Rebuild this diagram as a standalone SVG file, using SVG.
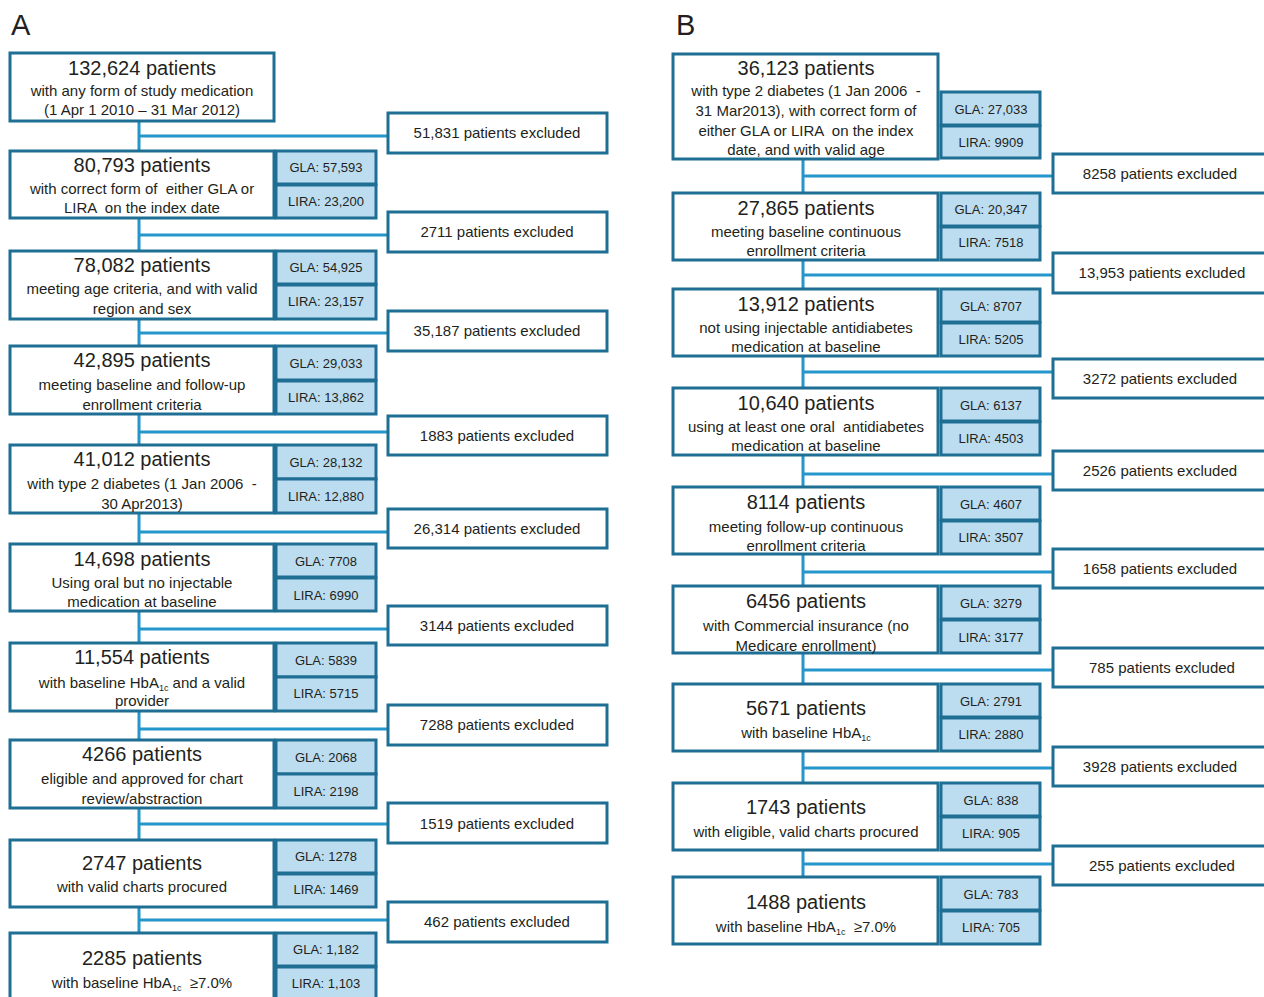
<svg xmlns="http://www.w3.org/2000/svg" width="1264" height="997" viewBox="0 0 1264 997" xml:space="preserve">
<style>
text{font-family:"Liberation Sans",Arial,sans-serif;fill:#231f20;text-anchor:middle;white-space:pre}
.box{fill:#fff;stroke:#1f6f94;stroke-width:3}
.sub{fill:#bcdcf0;stroke:#1f6f94;stroke-width:3}
.con{stroke:#2496c9;stroke-width:3;fill:none}
.t{font-size:20px}
.s{font-size:15px}
.g{font-size:13px}
.e{font-size:15px}
.lbl{font-size:29px;text-anchor:start}
.sb{font-size:9px}
</style>
<rect width="1264" height="997" fill="#fff"/>
<text class="lbl" x="11" y="35">A</text>
<text class="lbl" x="676" y="35">B</text>
<g id="connectors">
<line class="con" x1="139" y1="121" x2="139" y2="933"/>
<line class="con" x1="139" y1="136" x2="388" y2="136"/>
<line class="con" x1="139" y1="235" x2="388" y2="235"/>
<line class="con" x1="139" y1="333" x2="388" y2="333"/>
<line class="con" x1="139" y1="432" x2="388" y2="432"/>
<line class="con" x1="139" y1="532" x2="388" y2="532"/>
<line class="con" x1="139" y1="629" x2="388" y2="629"/>
<line class="con" x1="139" y1="729" x2="388" y2="729"/>
<line class="con" x1="139" y1="824" x2="388" y2="824"/>
<line class="con" x1="139" y1="920" x2="388" y2="920"/>
<line class="con" x1="803" y1="159" x2="803" y2="877"/>
<line class="con" x1="803" y1="176" x2="1053" y2="176"/>
<line class="con" x1="803" y1="275" x2="1053" y2="275"/>
<line class="con" x1="803" y1="372" x2="1053" y2="372"/>
<line class="con" x1="803" y1="474" x2="1053" y2="474"/>
<line class="con" x1="803" y1="572" x2="1053" y2="572"/>
<line class="con" x1="803" y1="670" x2="1053" y2="670"/>
<line class="con" x1="803" y1="768" x2="1053" y2="768"/>
<line class="con" x1="803" y1="864" x2="1053" y2="864"/>
</g>
<g id="a1"><rect class="box" x="10" y="53" width="264" height="68"/>
<text class="t" x="142" y="75">132,624 patients</text>
<text class="s" x="142" y="96">with any form of study medication</text>
<text class="s" x="142" y="115">(1 Apr 1 2010 – 31 Mar 2012)</text></g>
<g id="a2"><rect class="box" x="10" y="151" width="264" height="67"/>
<text class="t" x="142" y="172">80,793 patients</text>
<text class="s" x="142" y="194">with correct form of  either GLA or</text>
<text class="s" x="142" y="213">LIRA  on the index date</text></g>
<g id="a2-gla"><rect class="sub" x="276" y="151" width="100" height="33"/><text class="g" x="326" y="172">GLA: 57,593</text></g>
<g id="a2-lira"><rect class="sub" x="276" y="185" width="100" height="33"/><text class="g" x="326" y="206">LIRA: 23,200</text></g>
<g id="a3"><rect class="box" x="10" y="251" width="264" height="68"/>
<text class="t" x="142" y="272">78,082 patients</text>
<text class="s" x="142" y="294">meeting age criteria, and with valid</text>
<text class="s" x="142" y="314">region and sex</text></g>
<g id="a3-gla"><rect class="sub" x="276" y="251" width="100" height="33"/><text class="g" x="326" y="272">GLA: 54,925</text></g>
<g id="a3-lira"><rect class="sub" x="276" y="285" width="100" height="34"/><text class="g" x="326" y="306">LIRA: 23,157</text></g>
<g id="a4"><rect class="box" x="10" y="346" width="264" height="68"/>
<text class="t" x="142" y="367">42,895 patients</text>
<text class="s" x="142" y="390">meeting baseline and follow-up</text>
<text class="s" x="142" y="410">enrollment criteria</text></g>
<g id="a4-gla"><rect class="sub" x="276" y="346" width="100" height="34"/><text class="g" x="326" y="368">GLA: 29,033</text></g>
<g id="a4-lira"><rect class="sub" x="276" y="381" width="100" height="33"/><text class="g" x="326" y="402">LIRA: 13,862</text></g>
<g id="a5"><rect class="box" x="10" y="445" width="264" height="68"/>
<text class="t" x="142" y="466">41,012 patients</text>
<text class="s" x="142" y="489">with type 2 diabetes (1 Jan 2006  -</text>
<text class="s" x="142" y="509">30 Apr2013)</text></g>
<g id="a5-gla"><rect class="sub" x="276" y="445" width="100" height="34"/><text class="g" x="326" y="467">GLA: 28,132</text></g>
<g id="a5-lira"><rect class="sub" x="276" y="479" width="100" height="34"/><text class="g" x="326" y="501">LIRA: 12,880</text></g>
<g id="a6"><rect class="box" x="10" y="544" width="264" height="67"/>
<text class="t" x="142" y="566">14,698 patients</text>
<text class="s" x="142" y="588">Using oral but no injectable</text>
<text class="s" x="142" y="607">medication at baseline</text></g>
<g id="a6-gla"><rect class="sub" x="276" y="544" width="100" height="33"/><text class="g" x="326" y="566">GLA: 7708</text></g>
<g id="a6-lira"><rect class="sub" x="276" y="578" width="100" height="33"/><text class="g" x="326" y="600">LIRA: 6990</text></g>
<g id="a7"><rect class="box" x="10" y="643" width="264" height="68"/>
<text class="t" x="142" y="664">11,554 patients</text>
<text class="s" x="142" y="688">with baseline HbA<tspan class="sb" dy="3">1c</tspan><tspan dy="-3"> and a valid</tspan></text>
<text class="s" x="142" y="706">provider</text></g>
<g id="a7-gla"><rect class="sub" x="276" y="643" width="100" height="34"/><text class="g" x="326" y="665">GLA: 5839</text></g>
<g id="a7-lira"><rect class="sub" x="276" y="677" width="100" height="34"/><text class="g" x="326" y="698">LIRA: 5715</text></g>
<g id="a8"><rect class="box" x="10" y="740" width="264" height="68"/>
<text class="t" x="142" y="761">4266 patients</text>
<text class="s" x="142" y="784">eligible and approved for chart</text>
<text class="s" x="142" y="804">review/abstraction</text></g>
<g id="a8-gla"><rect class="sub" x="276" y="740" width="100" height="34"/><text class="g" x="326" y="762">GLA: 2068</text></g>
<g id="a8-lira"><rect class="sub" x="276" y="774" width="100" height="34"/><text class="g" x="326" y="796">LIRA: 2198</text></g>
<g id="a9"><rect class="box" x="10" y="840" width="264" height="67"/>
<text class="t" x="142" y="870">2747 patients</text>
<text class="s" x="142" y="892">with valid charts procured</text></g>
<g id="a9-gla"><rect class="sub" x="276" y="840" width="100" height="33"/><text class="g" x="326" y="861">GLA: 1278</text></g>
<g id="a9-lira"><rect class="sub" x="276" y="874" width="100" height="33"/><text class="g" x="326" y="894">LIRA: 1469</text></g>
<g id="a10"><rect class="box" x="10" y="933" width="264" height="68"/>
<text class="t" x="142" y="965">2285 patients</text>
<text class="s" x="142" y="988">with baseline HbA<tspan class="sb" dy="3">1c</tspan><tspan dy="-3">  ≥7.0%</tspan></text></g>
<g id="a10-gla"><rect class="sub" x="276" y="933" width="100" height="33"/><text class="g" x="326" y="954">GLA: 1,182</text></g>
<g id="a10-lira"><rect class="sub" x="276" y="967" width="100" height="33"/><text class="g" x="326" y="988">LIRA: 1,103</text></g>
<g id="a-ex1"><rect class="box" x="388" y="113" width="219" height="40"/><text class="e" x="497" y="138">51,831 patients excluded</text></g>
<g id="a-ex2"><rect class="box" x="388" y="212" width="219" height="40"/><text class="e" x="497" y="237">2711 patients excluded</text></g>
<g id="a-ex3"><rect class="box" x="388" y="311" width="219" height="40"/><text class="e" x="497" y="336">35,187 patients excluded</text></g>
<g id="a-ex4"><rect class="box" x="388" y="416" width="219" height="39"/><text class="e" x="497" y="441">1883 patients excluded</text></g>
<g id="a-ex5"><rect class="box" x="388" y="509" width="219" height="39"/><text class="e" x="497" y="534">26,314 patients excluded</text></g>
<g id="a-ex6"><rect class="box" x="388" y="606" width="219" height="39"/><text class="e" x="497" y="631">3144 patients excluded</text></g>
<g id="a-ex7"><rect class="box" x="388" y="705" width="219" height="40"/><text class="e" x="497" y="730">7288 patients excluded</text></g>
<g id="a-ex8"><rect class="box" x="388" y="803" width="219" height="40"/><text class="e" x="497" y="829">1519 patients excluded</text></g>
<g id="a-ex9"><rect class="box" x="388" y="902" width="219" height="40"/><text class="e" x="497" y="927">462 patients excluded</text></g>
<g id="b1"><rect class="box" x="673" y="54" width="265" height="105"/>
<text class="t" x="806" y="75">36,123 patients</text>
<text class="s" x="806" y="96">with type 2 diabetes (1 Jan 2006  -</text>
<text class="s" x="806" y="116">31 Mar2013), with correct form of</text>
<text class="s" x="806" y="136">either GLA or LIRA  on the index</text>
<text class="s" x="806" y="155">date, and with valid age</text></g>
<g id="b1-gla"><rect class="sub" x="941" y="92" width="99" height="33"/><text class="g" x="991" y="114">GLA: 27,033</text></g>
<g id="b1-lira"><rect class="sub" x="941" y="126" width="99" height="32"/><text class="g" x="991" y="147">LIRA: 9909</text></g>
<g id="b2"><rect class="box" x="673" y="193" width="265" height="67"/>
<text class="t" x="806" y="215">27,865 patients</text>
<text class="s" x="806" y="237">meeting baseline continuous</text>
<text class="s" x="806" y="256">enrollment criteria</text></g>
<g id="b2-gla"><rect class="sub" x="941" y="193" width="99" height="33"/><text class="g" x="991" y="214">GLA: 20,347</text></g>
<g id="b2-lira"><rect class="sub" x="941" y="227" width="99" height="33"/><text class="g" x="991" y="247">LIRA: 7518</text></g>
<g id="b3"><rect class="box" x="673" y="289" width="265" height="67"/>
<text class="t" x="806" y="311">13,912 patients</text>
<text class="s" x="806" y="333">not using injectable antidiabetes</text>
<text class="s" x="806" y="352">medication at baseline</text></g>
<g id="b3-gla"><rect class="sub" x="941" y="289" width="99" height="33"/><text class="g" x="991" y="311">GLA: 8707</text></g>
<g id="b3-lira"><rect class="sub" x="941" y="323" width="99" height="33"/><text class="g" x="991" y="344">LIRA: 5205</text></g>
<g id="b4"><rect class="box" x="673" y="388" width="265" height="67"/>
<text class="t" x="806" y="410">10,640 patients</text>
<text class="s" x="806" y="432">using at least one oral  antidiabetes</text>
<text class="s" x="806" y="451">medication at baseline</text></g>
<g id="b4-gla"><rect class="sub" x="941" y="388" width="99" height="33"/><text class="g" x="991" y="410">GLA: 6137</text></g>
<g id="b4-lira"><rect class="sub" x="941" y="422" width="99" height="33"/><text class="g" x="991" y="443">LIRA: 4503</text></g>
<g id="b5"><rect class="box" x="673" y="487" width="265" height="67"/>
<text class="t" x="806" y="509">8114 patients</text>
<text class="s" x="806" y="532">meeting follow-up continuous</text>
<text class="s" x="806" y="551">enrollment criteria</text></g>
<g id="b5-gla"><rect class="sub" x="941" y="487" width="99" height="33"/><text class="g" x="991" y="509">GLA: 4607</text></g>
<g id="b5-lira"><rect class="sub" x="941" y="521" width="99" height="33"/><text class="g" x="991" y="542">LIRA: 3507</text></g>
<g id="b6"><rect class="box" x="673" y="586" width="265" height="67"/>
<text class="t" x="806" y="608">6456 patients</text>
<text class="s" x="806" y="631">with Commercial insurance (no</text>
<text class="s" x="806" y="651">Medicare enrollment)</text></g>
<g id="b6-gla"><rect class="sub" x="941" y="586" width="99" height="33"/><text class="g" x="991" y="608">GLA: 3279</text></g>
<g id="b6-lira"><rect class="sub" x="941" y="620" width="99" height="33"/><text class="g" x="991" y="642">LIRA: 3177</text></g>
<g id="b7"><rect class="box" x="673" y="684" width="265" height="67"/>
<text class="t" x="806" y="715">5671 patients</text>
<text class="s" x="806" y="738">with baseline HbA<tspan class="sb" dy="3">1c</tspan></text></g>
<g id="b7-gla"><rect class="sub" x="941" y="684" width="99" height="33"/><text class="g" x="991" y="706">GLA: 2791</text></g>
<g id="b7-lira"><rect class="sub" x="941" y="718" width="99" height="33"/><text class="g" x="991" y="739">LIRA: 2880</text></g>
<g id="b8"><rect class="box" x="673" y="783" width="265" height="67"/>
<text class="t" x="806" y="814">1743 patients</text>
<text class="s" x="806" y="837">with eligible, valid charts procured</text></g>
<g id="b8-gla"><rect class="sub" x="941" y="783" width="99" height="33"/><text class="g" x="991" y="805">GLA: 838</text></g>
<g id="b8-lira"><rect class="sub" x="941" y="817" width="99" height="33"/><text class="g" x="991" y="838">LIRA: 905</text></g>
<g id="b9"><rect class="box" x="673" y="877" width="265" height="67"/>
<text class="t" x="806" y="909">1488 patients</text>
<text class="s" x="806" y="932">with baseline HbA<tspan class="sb" dy="3">1c</tspan><tspan dy="-3">  ≥7.0%</tspan></text></g>
<g id="b9-gla"><rect class="sub" x="941" y="877" width="99" height="33"/><text class="g" x="991" y="899">GLA: 783</text></g>
<g id="b9-lira"><rect class="sub" x="941" y="911" width="99" height="33"/><text class="g" x="991" y="932">LIRA: 705</text></g>
<g id="b-ex1"><rect class="box" x="1053" y="154" width="216" height="39"/><text class="e" x="1160" y="179">8258 patients excluded</text></g>
<g id="b-ex2"><rect class="box" x="1053" y="253" width="216" height="40"/><text class="e" x="1162" y="278">13,953 patients excluded</text></g>
<g id="b-ex3"><rect class="box" x="1053" y="359" width="216" height="39"/><text class="e" x="1160" y="384">3272 patients excluded</text></g>
<g id="b-ex4"><rect class="box" x="1053" y="451" width="216" height="39"/><text class="e" x="1160" y="476">2526 patients excluded</text></g>
<g id="b-ex5"><rect class="box" x="1053" y="549" width="216" height="39"/><text class="e" x="1160" y="574">1658 patients excluded</text></g>
<g id="b-ex6"><rect class="box" x="1053" y="648" width="216" height="39"/><text class="e" x="1162" y="673">785 patients excluded</text></g>
<g id="b-ex7"><rect class="box" x="1053" y="747" width="216" height="39"/><text class="e" x="1160" y="772">3928 patients excluded</text></g>
<g id="b-ex8"><rect class="box" x="1053" y="846" width="216" height="39"/><text class="e" x="1162" y="871">255 patients excluded</text></g>
</svg>
